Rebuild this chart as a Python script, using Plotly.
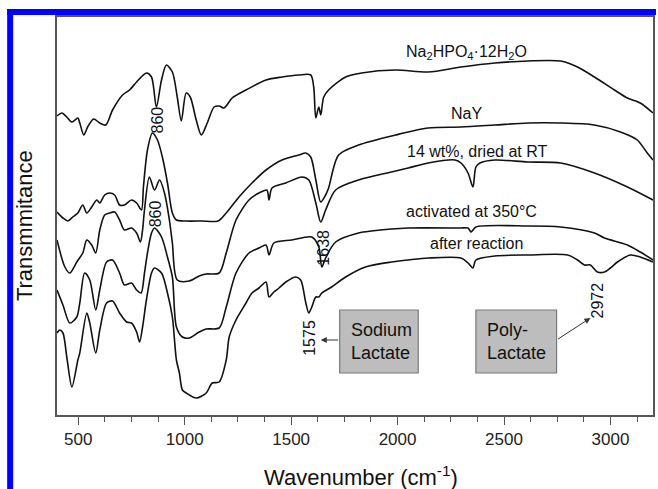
import plotly.graph_objects as go

# FTIR spectra (wavenumber in cm^-1, transmittance in arbitrary offset units)
na2hpo4_wn = [400, 423, 446, 470, 498, 507, 526, 544, 572, 601, 629, 661, 708, 741, 774, 820, 844,
              867, 891, 914, 942, 965, 984, 1007, 1026, 1054, 1078, 1106, 1138, 1162, 1185, 1223,
              1288, 1382, 1457, 1536, 1592, 1606, 1616, 1630, 1639, 1653, 1676, 1756, 1831, 1990,
              2144, 2298, 2457, 2612, 2766, 2845, 2925, 3019, 3080, 3140, 3200]
na2hpo4_t = [299, 302, 298, 293, 297, 292, 280, 288, 296, 292, 290, 305, 320, 325, 333, 342, 338,
             308, 335, 350, 343, 318, 294, 322, 318, 295, 280, 292, 308, 309, 307, 317,
             325, 335, 338, 340, 340, 328, 297, 308, 300, 318, 325, 338, 342, 345,
             343, 348, 352, 354, 354, 348, 338, 325, 317, 312, 302]

nay_wn = [400, 428, 451, 474, 498, 521, 540, 563, 587, 601, 624, 647, 671, 694, 717, 750, 774, 797,
          806, 825, 848, 872, 895, 919, 942, 961, 1007, 1080, 1157, 1195, 1255, 1316, 1382, 1457,
          1536, 1569, 1592, 1616, 1639, 1662, 1676, 1723, 1817, 1990, 2144, 2298, 2457, 2612,
          2766, 2925, 3047, 3126, 3173, 3200]
nay_t = [203, 197, 194, 198, 202, 210, 202, 208, 215, 212, 220, 222, 220, 210, 210, 215, 212, 205,
         228, 265, 282, 275, 258, 232, 202, 195, 194, 194, 194, 202, 218, 232, 245, 255,
         260, 262, 258, 235, 213, 220, 227, 260, 270, 280, 287, 288, 290, 292,
         292, 290, 283, 275, 262, 255]

dried_wn = [400, 437, 460, 493, 521, 540, 563, 582, 601, 624, 647, 671, 694, 717, 750, 774, 792,
            802, 811, 834, 858, 882, 905, 928, 942, 965, 1021, 1068, 1101, 1162, 1195, 1241,
            1302, 1349, 1386, 1396, 1410, 1475, 1550, 1583, 1616, 1639, 1662, 1709, 1817,
            1971, 2050, 2144, 2270, 2298, 2331, 2354, 2368, 2387, 2457, 2612, 2766, 2925,
            3080, 3200]
dried_t = [175, 148, 142, 153, 162, 175, 170, 162, 185, 200, 202, 203, 195, 185, 187, 182, 173,
           185, 205, 238, 225, 235, 222, 195, 172, 135, 134, 139, 141, 142, 162, 195,
           215, 222, 225, 215, 227, 232, 238, 235, 212, 193, 205, 225, 235,
           243, 247, 252, 255, 252, 242, 228, 248, 252, 255, 253, 252, 242,
           228, 215]

activated_wn = [400, 428, 460, 493, 507, 530, 554, 582, 601, 633, 661, 694, 717, 750, 774, 795,
                811, 825, 844, 858, 891, 919, 942, 961, 989, 1021, 1068, 1101, 1162, 1195, 1241,
                1302, 1349, 1382, 1396, 1419, 1503, 1597, 1630, 1644, 1662, 1709, 1817, 1971,
                2050, 2298, 2331, 2345, 2368, 2612, 2766, 2925, 2972, 3080, 3140, 3200]
activated_t = [125, 110, 92, 98, 112, 142, 135, 105, 125, 153, 155, 142, 130, 132, 125, 122,
               142, 162, 182, 187, 178, 158, 138, 88, 78, 77, 83, 86, 87, 108, 142,
               162, 167, 170, 160, 172, 175, 178, 168, 148, 157, 173, 182, 186,
               187, 187, 187, 183, 188, 189, 188, 182, 177, 170, 163, 155]

reacted_wn = [400, 413, 428, 446, 470, 498, 507, 540, 554, 582, 601, 633, 661, 694, 727, 750, 774,
              788, 802, 820, 844, 858, 891, 919, 942, 961, 975, 989, 1007, 1054, 1101, 1129,
              1162, 1195, 1209, 1241, 1288, 1316, 1349, 1382, 1396, 1419, 1443, 1475, 1522,
              1545, 1569, 1583, 1597, 1616, 1630, 1644, 1690, 1756, 1849, 1971, 2050, 2144,
              2298, 2331, 2354, 2368, 2457, 2612, 2799, 2845, 2878, 2906, 2939, 2972, 3000,
              3033, 3094, 3140, 3200]
reacted_t = [82, 85, 82, 58, 28, 55, 62, 102, 92, 62, 85, 112, 114, 102, 93, 92, 83,
             73, 88, 115, 142, 147, 142, 122, 98, 55, 42, 25, 22, 17, 22, 32,
             33, 55, 78, 95, 112, 122, 127, 133, 118, 123, 127, 133, 138,
             135, 112, 102, 108, 118, 118, 122, 128, 138, 148, 153, 155, 157,
             157, 152, 147, 155, 159, 160, 160, 155, 150, 150, 143, 143, 147,
             153, 160, 158, 153]

spectra = [
    (na2hpo4_wn, na2hpo4_t),
    (nay_wn, nay_t),
    (dried_wn, dried_t),
    (activated_wn, activated_t),
    (reacted_wn, reacted_t),
]

# Labels for each spectrum: (text, wavenumber, transmittance)
spectrum_labels = [
    ("Na<sub>2</sub>HPO<sub>4</sub>·12H<sub>2</sub>O", 2322, 363),
    ("NaY", 2326, 302),
    ("14 wt%, dried at RT", 2373, 264),
    ("activated at 350°C", 2345, 204),
    ("after reaction", 2373, 172),
]

# Band positions marked on the spectra: (text, wavenumber, transmittance)
band_labels = [
    ("860", 872, 295),
    ("860", 862, 201),
    ("1638", 1648, 167),
    ("1575", 1583, 77),
    ("2972", 2939, 115),
]

xtick_vals = [500, 1000, 1500, 2000, 2500, 3000]

FONT = "Liberation Sans, Arial, sans-serif"

W, H = 658, 489
ML, MR, MT, MB = 57, 3, 17, 74
PW, PH = W - ML - MR, H - MT - MB


def px_x(px):
    return (px - ML) / PW


def px_y(py):
    return (H - MB - py) / PH


fig = go.Figure()

for wn, t in spectra:
    fig.add_trace(go.Scatter(
        x=wn, y=t, mode="lines",
        line=dict(color="#111111", width=1.6, shape="spline", smoothing=0.8),
        hoverinfo="skip", showlegend=False,
    ))

annotations = []
for text, x, y in spectrum_labels:
    annotations.append(dict(x=x, y=y, text=text, showarrow=False,
                            font=dict(family=FONT, size=16, color="#111111")))
for text, x, y in band_labels:
    annotations.append(dict(x=x, y=y, text=text, showarrow=False, textangle=-90,
                            font=dict(family=FONT, size=16, color="#111111")))

# Assignment boxes with arrows to the bands
boxes = [
    ("Sodium<br>Lactate", 1728, 2097, 1639, 75),
    ("Poly-<br>Lactate", 2368, 2747, 2906, 97),
]
shapes = []
for text, x0, x1, tipx, tipy in boxes:
    shapes.append(dict(type="rect", xref="x", yref="y", x0=x0, x1=x1, y0=42, y1=105,
                       fillcolor="#BDBDBD", line=dict(color="#7A7A7A", width=1.2), layer="above"))
    annotations.append(dict(x=x0 + 45, y=73.5, xanchor="left", text=text, showarrow=False,
                            align="left", font=dict(family=FONT, size=18, color="#111111")))
    tail_x = x0 if tipx < x0 else x1
    annotations.append(dict(x=tipx, y=tipy, ax=tail_x, ay=75, axref="x", ayref="y",
                            xref="x", yref="y", text="", showarrow=True, arrowhead=2,
                            arrowsize=1.2, arrowwidth=1, arrowcolor="#333333"))

# Axis titles
annotations.append(dict(xref="paper", yref="paper", x=px_x(24), y=px_y(226),
                        xanchor="center", yanchor="middle",
                        text="Transmmitance", textangle=-90, showarrow=False,
                        font=dict(family=FONT, size=22, color="#111111")))
annotations.append(dict(xref="paper", yref="paper", x=px_x(362), y=px_y(476),
                        xanchor="center", yanchor="middle",
                        text="Wavenumber (cm<sup>-1</sup>)", showarrow=False,
                        font=dict(family=FONT, size=22, color="#111111")))

# Blue page border on the left and top
shapes.append(dict(type="rect", xref="paper", yref="paper", x0=px_x(7), x1=px_x(13),
                   y0=px_y(489), y1=px_y(9), fillcolor="#0000FF", line=dict(width=0)))
shapes.append(dict(type="rect", xref="paper", yref="paper", x0=px_x(7), x1=px_x(658),
                   y0=px_y(15), y1=px_y(9), fillcolor="#0000FF", line=dict(width=0)))

fig.update_layout(
    width=W, height=H,
    margin=dict(l=ML, r=MR, t=MT, b=MB),
    paper_bgcolor="white", plot_bgcolor="white",
    annotations=annotations, shapes=shapes,
    xaxis=dict(
        range=[400, 3200], tickvals=xtick_vals, ticks="outside", ticklen=8, tickwidth=1.2,
        tickcolor="#555555", showline=True, mirror=True, linecolor="#555555", linewidth=1.5,
        showgrid=False, zeroline=False,
        tickfont=dict(family=FONT, size=17, color="#222222"),
        minor=dict(ticks="outside", ticklen=5, tickwidth=1.2, tickcolor="#555555",
                   dtick=125, tick0=500, showgrid=False),
    ),
    yaxis=dict(
        range=[0, 398], showticklabels=False, ticks="", showline=True, mirror=True,
        linecolor="#555555", linewidth=1.5, showgrid=False, zeroline=False,
    ),
)

fig.write_html("out.html")
